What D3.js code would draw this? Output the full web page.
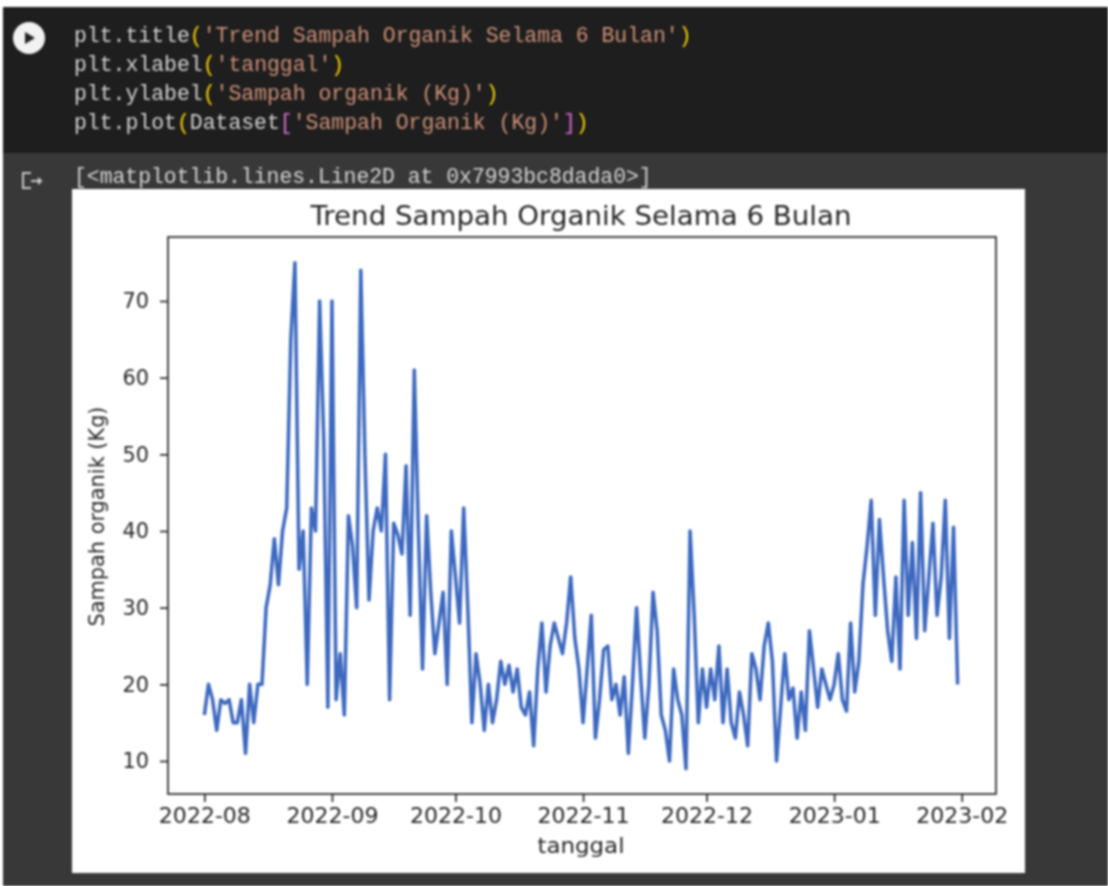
<!DOCTYPE html>
<html><head><meta charset="utf-8">
<script src="https://cdn.jsdelivr.net/npm/d3@7/dist/d3.min.js"></script>
<style>
html,body{margin:0;padding:0;background:#fff;overflow:hidden}
svg{display:block}
#chart{width:1108px;height:886px;filter:blur(0.8px)}
</style></head><body><div id="chart"></div>
<script>
const titleText = "Trend Sampah Organik Selama 6 Bulan";
const xLabel = "tanggal";
const yLabel = "Sampah organik (Kg)";
const startDate = "2022-08-01";
const values = [
16,20,18,14,18,17.5,18,15,15,18,11,20,15,20,20,30,33,39,33,40,
43,65,75,35,40,20,43,40,70,52,17,70,18,24,16,42,38,30,74,50,
31,40,43,40,50,18,41,39.5,37,48.5,29,61,40,22,42,32,24,28,32,20,
40,34,28,43,30,15,24,20,14,20,15,18,23,20,22.5,19,22,17,16,19,
12,22,28,19,25,28,26,24,28,34,26,22,15,22,29,13,18,24.5,25,18,
20,16,21,11,20,30,21,13,20,32,27,16,14,10,22,18,16,9,40,29,
15,22,17,22,18,25,15,22,15,13,19,16,12,24,22,18,25,28,23,10,
17,24,18,19.5,13,19,14,27,22,17,22,20,18,20,24,18,16.5,28,19,23,
33,38,44,29,41.5,34,27,23,34,22,44,29,38.5,26,45,27,34,41,29,34,
44,26,40.5,20];
const xTicks = ["2022-08","2022-09","2022-10","2022-11","2022-12","2023-01","2023-02"];
const yTicks = [10,20,30,40,50,60,70];
const codeLines = [
 [["plt.title","#d4d4d4"],["(","#ffd700"],["'Trend Sampah Organik Selama 6 Bulan'","#ce9178"],[")","#ffd700"]],
 [["plt.xlabel","#d4d4d4"],["(","#ffd700"],["'tanggal'","#ce9178"],[")","#ffd700"]],
 [["plt.ylabel","#d4d4d4"],["(","#ffd700"],["'Sampah organik (Kg)'","#ce9178"],[")","#ffd700"]],
 [["plt.plot","#d4d4d4"],["(","#ffd700"],["Dataset","#d4d4d4"],["[","#da70d6"],["'Sampah Organik (Kg)'","#ce9178"],["]","#da70d6"],[")","#ffd700"]]
];
const outputText = "[<matplotlib.lines.Line2D at 0x7993bc8dada0>]";

const W=1108,H=886;
const svg=d3.select("#chart").append("svg").attr("width",W).attr("height",H);
svg.append("rect").attr("x",3).attr("y",7).attr("width",W-3).attr("height",146).attr("fill","#1e1e1e");
svg.append("rect").attr("x",3).attr("y",153).attr("width",W-3).attr("height",H-153).attr("fill","#383838");
svg.append("circle").attr("cx",29).attr("cy",38).attr("r",16).attr("fill","#f2f2f2");
svg.append("path").attr("d","M25 32 L35 38 L25 44 Z").attr("fill","#222");
svg.append("path").attr("d","M31 173 H23 V188 H31 M31 181 H41 M38 178 L41 181 L38 184").attr("fill","none").attr("stroke","#c8c8c8").attr("stroke-width",2);

const code=svg.append("g").attr("font-family","'Liberation Mono',monospace").attr("font-size",21.45);
codeLines.forEach((ln,i)=>{
  const t=code.append("text").attr("x",74).attr("y",42+i*29).attr("xml:space","preserve").style("white-space","pre");
  ln.forEach(s=>t.append("tspan").attr("fill",s[1]).text(s[0]));
});
svg.append("text").attr("x",74).attr("y",183).attr("font-family","'Liberation Mono',monospace").attr("font-size",21.4).attr("fill","#d5d5d5").text(outputText);

svg.append("rect").attr("x",72).attr("y",189).attr("width",953).attr("height",684).attr("fill","#fff");

const L=168,R=996,T=237,B=794;
const parse=d3.utcParse("%Y-%m-%d"), parseM=d3.utcParse("%Y-%m");
const t0=parse(startDate);
const dates=values.map((_,i)=>d3.utcDay.offset(t0,i));
const span=(dates[dates.length-1]-dates[0])*0.05;
const x=d3.scaleUtc().domain([new Date(+dates[0]-span),new Date(+dates[dates.length-1]+span)]).range([L-1.3,R-0.7]);
const y=d3.scaleLinear().domain([10-(794-761)/(460/60),70+(301-237)/(460/60)]).range([B,T]);

const font="'DejaVu Sans',sans-serif", ink="#262626";
const gx=svg.append("g").attr("transform",`translate(0,${B})`)
 .call(d3.axisBottom(x).tickValues(xTicks.map(parseM)).tickFormat(d3.utcFormat("%Y-%m")).tickSize(8).tickPadding(6));
const gy=svg.append("g").attr("transform",`translate(${L},0)`)
 .call(d3.axisLeft(y).tickValues(yTicks).tickSize(8).tickPadding(11));
[gx,gy].forEach(g=>{
  g.select(".domain").remove();
  g.selectAll("line").attr("stroke",ink).attr("stroke-width",1.7);
  g.selectAll("text").attr("font-family",font).attr("font-size",21).attr("fill",ink);
});
gx.selectAll("text").attr("textLength",92).attr("lengthAdjust","spacingAndGlyphs");
gy.selectAll("text").attr("textLength",26.5).attr("lengthAdjust","spacingAndGlyphs");
svg.append("path").datum(values)
 .attr("d",d3.line().x((d,i)=>x(dates[i])).y(d=>y(d)))
 .attr("fill","none").attr("stroke","#3c68bf").attr("stroke-width",3.5).attr("stroke-linejoin","round");
svg.append("rect").attr("x",L).attr("y",T).attr("width",R-L).attr("height",B-T).attr("fill","none").attr("stroke",ink).attr("stroke-width",1.7);
svg.append("text").attr("x",(L+R)/2-1).attr("y",225).attr("text-anchor","middle").attr("font-family",font).attr("font-size",26.5).attr("fill",ink).attr("textLength",541).attr("lengthAdjust","spacingAndGlyphs").text(titleText);
svg.append("text").attr("x",(L+R)/2-1).attr("y",853).attr("text-anchor","middle").attr("font-family",font).attr("font-size",21).attr("fill",ink).attr("textLength",87).attr("lengthAdjust","spacingAndGlyphs").text(xLabel);
svg.append("text").attr("transform",`translate(104,${(T+B)/2+1}) rotate(-90)`).attr("text-anchor","middle").attr("font-family",font).attr("font-size",21).attr("fill",ink).attr("textLength",220).attr("lengthAdjust","spacingAndGlyphs").text(yLabel);
</script></body></html>
